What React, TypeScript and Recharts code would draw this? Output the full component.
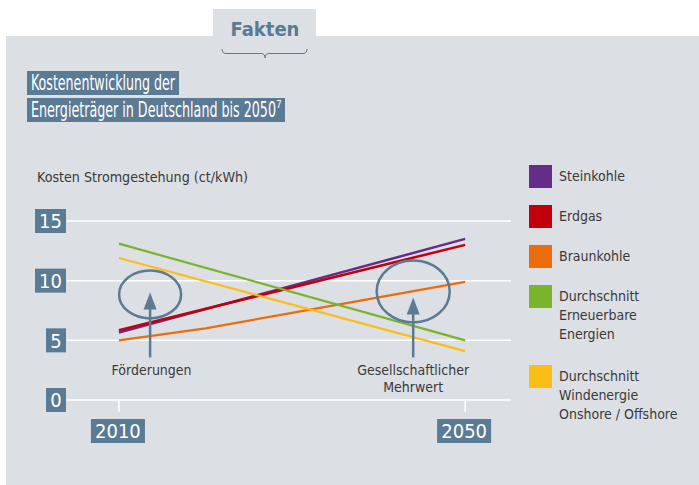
import { LineChart, Line, XAxis, YAxis, CartesianGrid, ReferenceDot } from 'recharts';

// Kosten Stromgestehung (ct/kWh)
const years = [2010, 2050];
const braunkohleYears = [2010, 2020, 2030, 2040, 2050];

const steinkohle = [5.65, 13.5];
const erdgas = [5.85, 13.0];
const braunkohle = [5.0, 6.0, 7.3, 8.6, 9.9];
const erneuerbare = [13.1, 5.0];
const windenergie = [11.9, 4.1];

const yTicks = [0, 5, 10, 15];
const xTicks = [2010, 2050];

const annotationYears = [2013.6, 2044];
const annotationValues = [8.85, 9.1];
const annotationLabels = [['Förderungen'], ['Gesellschaftlicher', 'Mehrwert']];

const FONT = "'Liberation Sans Narrow', 'DejaVu Sans Condensed', 'Open Sans', sans-serif";
const SLATE = '#5b7a93';
const PANEL = '#dcdfe3';
const TEXT = '#3a3a3a';

const toPoints = (xs: number[], ys: number[]) => xs.map((year, i) => ({ year, value: ys[i] }));

const series = [
  { name: 'Steinkohle', lines: ['Steinkohle'], color: '#652d8a', width: 2.5, data: toPoints(years, steinkohle) },
  { name: 'Erdgas', lines: ['Erdgas'], color: '#c1000b', width: 2.5, data: toPoints(years, erdgas) },
  { name: 'Braunkohle', lines: ['Braunkohle'], color: '#ec6c0c', width: 2.2, data: toPoints(braunkohleYears, braunkohle) },
  { name: 'Erneuerbare', lines: ['Durchschnitt', 'Erneuerbare', 'Energien'], color: '#79b42a', width: 2.2, data: toPoints(years, erneuerbare) },
  { name: 'Wind', lines: ['Durchschnitt', 'Windenergie', 'Onshore / Offshore'], color: '#fbbe15', width: 2.2, data: toPoints(years, windenergie) },
];

// Ellipse / Pfeil relativ zum Mittelpunkt
const annotationShapes = [
  { rx: 31, ry: 24, tipDy: -2, bottomDy: 63, labelDy: 76 },
  { rx: 36.5, ry: 31, tipDy: 6, bottomDy: 66, labelDy: 79 },
];

const YTick = ({ x, y, payload }: any) => {
  const label = String(payload.value);
  const w = 9 + 11 * label.length;
  return (
    <g>
      <rect x={x - w} y={y - 12} width={w} height={24} fill={SLATE} />
      <text x={x - w / 2} y={y} dy="0.36em" textAnchor="middle" fill="#fff" fontSize={20} fontFamily={FONT}>
        {label}
      </text>
    </g>
  );
};

const XTick = ({ x, y, payload }: any) => {
  const label = String(payload.value);
  const w = 10 + 11 * label.length;
  return (
    <g>
      <rect x={x - w / 2 - 1} y={y} width={w} height={24} fill={SLATE} />
      <text x={x - 1} y={y + 12} dy="0.36em" textAnchor="middle" fill="#fff" fontSize={20} fontFamily={FONT}>
        {label}
      </text>
    </g>
  );
};

const Annotation = ({ cx, cy, index }: any) => {
  const s = annotationShapes[index];
  const tip = cy + s.tipDy;
  return (
    <g>
      <ellipse cx={cx} cy={cy} rx={s.rx} ry={s.ry} fill="none" stroke={SLATE} strokeWidth={2.5} />
      <line x1={cx} y1={tip + 14} x2={cx} y2={cy + s.bottomDy} stroke={SLATE} strokeWidth={2.5} />
      <path d={`M${cx},${tip} L${cx + 6.5},${tip + 17} L${cx - 6.5},${tip + 17} Z`} fill={SLATE} />
      {annotationLabels[index].map((t, i) => (
        <text
          key={t}
          x={cx + (index === 0 ? 1.5 : 0)}
          y={cy + s.labelDy + i * 16.5}
          dy="0.35em"
          textAnchor="middle"
          fill={TEXT}
          fontSize={14}
          fontFamily={FONT}
        >
          {t}
        </text>
      ))}
    </g>
  );
};

export default function App() {
  return (
    <div style={{ position: 'absolute', left: 0, top: 0, width: 699, height: 485, background: '#fff', overflow: 'hidden' }}>
      <svg width={699} height={485} style={{ position: 'absolute', left: 0, top: 0 }}>
        <rect x={6} y={36} width={693} height={449} fill={PANEL} />
        <rect x={213} y={9} width={103} height={28} fill={PANEL} />
        <text x={265} y={36} textAnchor="middle" fill={SLATE} fontSize={20} fontWeight="bold" fontFamily={FONT}>
          Fakten
        </text>
        <path
          d="M222,49 Q222,53.5 226,53.5 L261,53.5 Q265,53.5 265,58 Q265,53.5 269,53.5 L303,53.5 Q307,53.5 307,49"
          fill="none"
          stroke={SLATE}
          strokeWidth={1}
        />
        <rect x={27} y={71} width={152} height={24} fill={SLATE} />
        <rect x={27} y={98} width={258} height={24} fill={SLATE} />
        <text x={31} y={90} fill="#fff" fontSize={21} fontFamily={FONT} textLength={144} lengthAdjust="spacingAndGlyphs">
          Kostenentwicklung der
        </text>
        <text x={31} y={117} fill="#fff" fontSize={21} fontFamily={FONT}>
          <tspan textLength={245} lengthAdjust="spacingAndGlyphs">
            Energieträger in Deutschland bis 2050
          </tspan>
          <tspan dy={-9} fontSize={10}>
            7
          </tspan>
        </text>
        <text x={37} y={182} fill={TEXT} fontSize={14.5} fontFamily={FONT} textLength={211} lengthAdjust="spacingAndGlyphs">
          Kosten Stromgestehung (ct/kWh)
        </text>
      </svg>

      <div style={{ position: 'absolute', left: 0, top: 0 }}>
        <LineChart width={699} height={485} margin={{ top: 221, right: 188, bottom: 40, left: 7 }}>
          <CartesianGrid horizontal vertical={false} stroke="#ffffff" strokeWidth={1.5} />
          <XAxis
            dataKey="year"
            type="number"
            domain={[2004, 2055.3]}
            allowDataOverflow
            ticks={xTicks}
            height={45}
            axisLine={false}
            tickLine={{ stroke: '#ffffff', strokeWidth: 1.5 }}
            tickSize={12}
            tickMargin={7}
            tick={<XTick />}
          />
          <YAxis
            type="number"
            domain={[0, 15]}
            allowDataOverflow
            ticks={yTicks}
            width={60}
            axisLine={false}
            tickLine={false}
            tickSize={0}
            tickMargin={1}
            tick={<YTick />}
          />
          {series.map((s) => (
            <Line
              key={s.name}
              data={s.data}
              dataKey="value"
              name={s.name}
              type="linear"
              stroke={s.color}
              strokeWidth={s.width}
              dot={false}
              activeDot={false}
              isAnimationActive={false}
            />
          ))}
          {annotationYears.map((yr, i) => (
            <ReferenceDot
              key={yr}
              x={yr}
              y={annotationValues[i]}
              r={1}
              ifOverflow="visible"
              shape={(p: any) => <Annotation cx={p.cx} cy={p.cy} index={i} />}
            />
          ))}
        </LineChart>
      </div>

      <div style={{ position: 'absolute', left: 529, top: 165, width: 170, fontFamily: FONT, fontSize: 14, color: TEXT }}>
        {series.map((s) => (
          <div
            key={s.name}
            style={{ position: 'relative', height: 23 + (s.lines.length - 1) * 20, marginBottom: 17 }}
          >
            <div style={{ position: 'absolute', left: 0, top: 0, width: 23, height: 23, background: s.color }} />
            <div style={{ position: 'absolute', left: 30, top: 2, lineHeight: '19px', whiteSpace: 'nowrap' }}>
              {s.lines.map((t) => (
                <div key={t}>{t}</div>
              ))}
            </div>
          </div>
        ))}
      </div>
    </div>
  );
}
